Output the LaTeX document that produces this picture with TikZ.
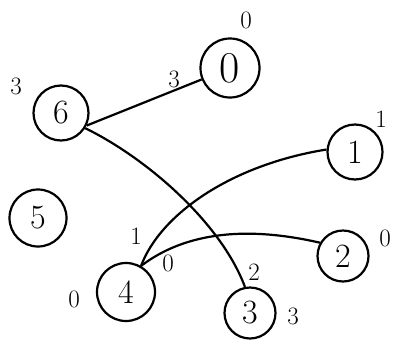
\documentclass[tikz,border=0pt]{standalone}
\begin{document}
\begin{tikzpicture}[x=1pt,y=-1pt,
  vert/.style={circle,draw,line width=2.2pt,minimum size=#1,inner sep=0pt,font=\fontsize{34}{34}\selectfont},
  vert/.default=54pt,
  lab/.style={inner sep=0pt,font=\fontsize{25}{25}\selectfont},
  edge/.style={line width=2.2pt}]
\useasboundingbox (0,0) rectangle (395,343);
\node[vert=59pt,font=\fontsize{44}{44}\selectfont] (n0) at (230,68) {0};
\node[vert=55pt] (n6) at (61,113) {6};
\node[vert=55pt] (n1) at (355,152) {1};
\node[vert=57pt] (n5) at (38,218) {5};
\node[vert=51pt] (n2) at (343,256) {2};
\node[vert=58pt] (n4) at (126,292) {4};
\node[vert=51pt] (n3) at (250,313) {3};
% vertex labels
\node[lab] (l0) at (246,20) {0};
\node[lab] (l6) at (16,86) {3};
\node[lab] (l1) at (381,119) {1};
\node[lab] (l2) at (385,238) {0};
\node[lab] (l4) at (74,299) {0};
\node[lab] (l3) at (293,316) {3};
% edge labels
\node[lab] (e60) at (174,79) {3};
\node[lab] (e41) at (136,236) {1};
\node[lab] (e42) at (168,263) {0};
\node[lab] (e63) at (254,272) {2};
% edges
\draw[edge] (n6.-26) -- (n0.202);
\draw[edge] (n6.-32) .. controls (150,160) and (222,225) .. (n3.101);
\draw[edge] (n4.60) .. controls (160,215) and (230,165) .. (n1.175);
\draw[edge] (n4.60) .. controls (175,240) and (230,222) .. (n2.150);
\end{tikzpicture}
\end{document}
